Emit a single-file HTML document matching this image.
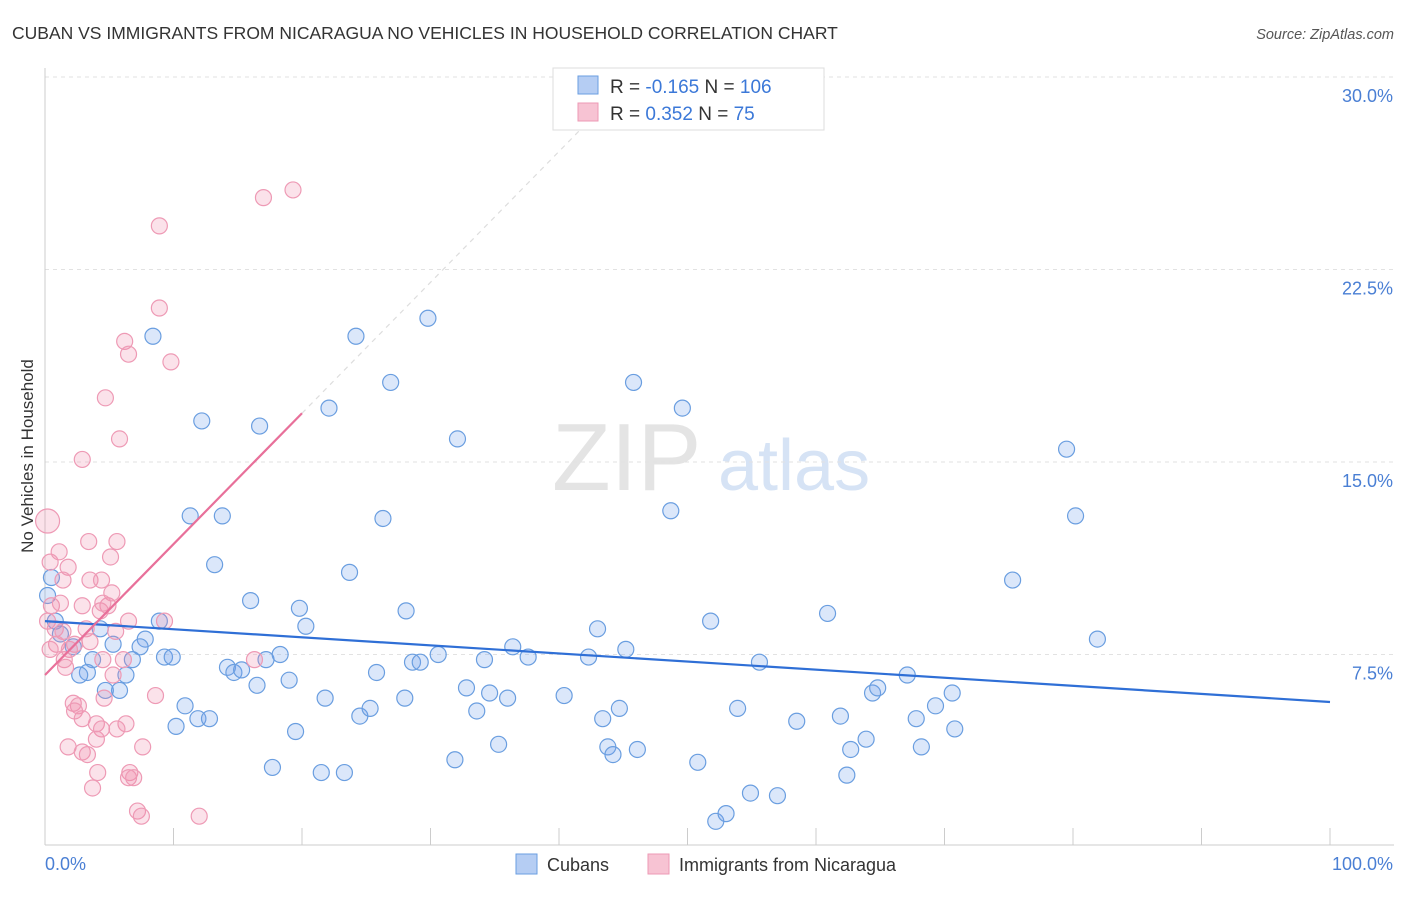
<!DOCTYPE html>
<html><head><meta charset="utf-8"><style>
body{margin:0;background:#fff;font-family:"Liberation Sans",sans-serif;}
svg text{font-family:"Liberation Sans",sans-serif;}
</style></head><body>
<svg id="chart" width="1406" height="892" xmlns="http://www.w3.org/2000/svg">
<text x="12" y="39" font-size="17.5" fill="#333">CUBAN VS IMMIGRANTS FROM NICARAGUA NO VEHICLES IN HOUSEHOLD CORRELATION CHART</text>
<text x="1394" y="39" font-size="14.5" fill="#555" font-style="italic" text-anchor="end">Source: ZipAtlas.com</text>
<g>
<text x="552" y="490" font-size="96" fill="#e4e4e4" font-family="Liberation Serif">ZIP</text>
<text x="718" y="490" font-size="72" fill="#d6e3f5">atlas</text>
</g>
<g id="grid"></g>
<g id="marks"></g>
<text transform="translate(33,456) rotate(-90)" font-size="17" fill="#333" text-anchor="middle">No Vehicles in Household</text>
<g>
<rect x="553" y="68" width="271" height="62" fill="#fff" stroke="#ddd"/>
<rect x="578" y="76" width="20" height="18" fill="#b5cdf3" stroke="#6a9ee0"/>
<rect x="578" y="103" width="20" height="18" fill="#f7c3d3" stroke="#ee9ab5"/>
<text x="610" y="93" font-size="19" fill="#333">R = <tspan fill="#3b78d8">-0.165</tspan>   N = <tspan fill="#3b78d8">106</tspan></text>
<text x="610" y="120" font-size="19" fill="#333">R =  <tspan fill="#3b78d8">0.352</tspan>   N =   <tspan fill="#3b78d8">75</tspan></text>
</g>
<g>
<rect x="516" y="854" width="21" height="20" fill="#b5cdf3" stroke="#6a9ee0"/>
<text x="547" y="871" font-size="18" fill="#333">Cubans</text>
<rect x="648" y="854" width="21" height="20" fill="#f7c3d3" stroke="#ee9ab5"/>
<text x="679" y="871" font-size="18" fill="#333">Immigrants from Nicaragua</text>
</g>
</svg>
<script>
const yTicks=[7.5,15,22.5,30];
const yTickLabels=["7.5%","15.0%","22.5%","30.0%"];
const xTickLabels=["0.0%","100.0%"];
const cubanX=[8.4,12.2,11.3,13.8,13.2,16.7,24.2,29.8,26.9,22.1,32.1,26.3,23.7,16.0,19.8,20.3,28.1,8.9,7.8,7.4,9.3,9.9,6.8,5.3,4.3,3.7,3.3,2.7,2.2,1.2,0.8,0.5,0.2,4.7,5.8,6.3,10.9,10.2,11.9,12.8,14.2,14.7,15.3,16.5,17.2,18.3,19.0,19.5,17.7,21.5,23.3,21.8,24.5,25.3,25.8,28.0,28.6,29.2,30.6,32.8,33.6,34.6,36.0,34.2,36.4,37.6,31.9,35.3,40.4,42.3,43.0,43.4,44.7,45.2,43.8,44.2,46.1,45.8,49.6,48.7,51.8,50.8,53.9,55.6,54.9,57.0,52.2,53.0,58.5,60.9,61.9,62.4,62.7,63.9,64.4,64.8,67.1,67.8,68.2,69.3,70.6,70.8,75.3,79.5,80.2,81.9];
const cubanY=[19.9,16.6,12.9,12.9,11.0,16.4,19.9,20.6,18.1,17.1,15.9,12.8,10.7,9.6,9.3,8.6,9.2,8.8,8.1,7.8,7.4,7.4,7.3,7.9,8.5,7.3,6.8,6.7,7.8,8.3,8.8,10.5,9.8,6.1,6.1,6.7,5.5,4.7,5.0,5.0,7.0,6.8,6.9,6.3,7.3,7.5,6.5,4.5,3.1,2.9,2.9,5.8,5.1,5.4,6.8,5.8,7.2,7.2,7.5,6.2,5.3,6.0,5.8,7.3,7.8,7.4,3.4,4.0,5.9,7.4,8.5,5.0,5.4,7.7,3.9,3.6,3.8,18.1,17.1,13.1,8.8,3.3,5.4,7.2,2.1,2.0,1.0,1.3,4.9,9.1,5.1,2.8,3.8,4.2,6.0,6.2,6.7,5.0,3.9,5.5,6.0,4.6,10.4,15.5,12.9,8.1];
const nicX=[19.3,17.0,8.9,8.9,6.2,6.5,9.8,4.7,5.8,2.9,0.2,1.1,3.4,5.6,5.1,1.8,0.4,3.5,4.4,1.4,0.5,1.2,4.9,5.2,2.9,4.3,4.5,6.5,3.2,5.5,9.3,0.2,0.8,1.4,0.9,2.3,1.9,1.5,1.6,4.5,5.3,6.1,3.5,8.6,4.6,2.2,2.6,2.3,2.9,4.0,4.4,6.3,5.6,4.0,7.6,1.8,2.9,3.3,4.1,6.6,6.5,6.9,3.7,7.2,7.5,12.0,16.3,0.4];
const nicY=[25.6,25.3,24.2,21.0,19.7,19.2,18.9,17.5,15.9,15.1,12.7,11.5,11.9,11.9,11.3,10.9,11.1,10.4,10.4,10.4,9.4,9.5,9.4,9.9,9.4,9.2,9.5,8.8,8.5,8.4,8.8,8.8,8.5,8.4,7.9,7.9,7.7,7.3,7.0,7.3,6.7,7.3,8.0,5.9,5.8,5.6,5.5,5.3,5.0,4.8,4.6,4.8,4.6,4.2,3.9,3.9,3.7,3.6,2.9,2.9,2.7,2.7,2.3,1.4,1.2,1.2,7.3,7.7];
const cubanTrend=[8.8,5.65];
const nicTrend=[6.7,0.51];
const NS="http://www.w3.org/2000/svg";
const X0=45,X1=1330,Y0=847,PY=770/30;
const sx=v=>X0+(X1-X0)*v/100, sy=v=>Y0-v*PY;
function mk(tag,attrs,parent){const e=document.createElementNS(NS,tag);for(const k in attrs)e.setAttribute(k,attrs[k]);parent.appendChild(e);return e;}
const grid=document.getElementById('grid'),marks=document.getElementById('marks');
yTicks.forEach((t,i)=>{
 const l=mk('line',{x1:45,x2:1394,y1:sy(t),y2:sy(t),stroke:'#e2e2e2','stroke-dasharray':'4,4'},grid);
 
 
 const tx=mk('text',{x:1393,y:sy(t)+25,'font-size':18,fill:'#4a7fd4','text-anchor':'end'},grid);
 tx.textContent=yTickLabels[i];
 
 
});
const ax=mk('line',{x1:45,x2:1394,y1:845,y2:845,stroke:'#ccc'},grid);


const ay=mk('line',{x1:45,x2:45,y1:68,y2:845,stroke:'#ccc'},grid);


for(let i=0;i<=10;i++){
 const t=mk('line',{x1:sx(i*10),x2:sx(i*10),y1:828,y2:845,stroke:'#ccc'},grid);
 
 
}
const xl0=mk('text',{x:45,y:870,'font-size':18,fill:'#4a7fd4'},grid);xl0.textContent=xTickLabels[0];


const xl1=mk('text',{x:1393,y:870,'font-size':18,fill:'#4a7fd4','text-anchor':'end'},grid);xl1.textContent=xTickLabels[1];


cubanX.forEach((v,i)=>{
 const c=mk('circle',{cx:sx(v),cy:sy(cubanY[i]),r:8,fill:'rgba(110,160,235,0.25)',stroke:'#6a9ee0','stroke-width':1.2},marks);
 
 
});
nicX.forEach((v,i)=>{
 const c=mk('circle',{cx:sx(v),cy:sy(nicY[i]),r:(i===10?12:8),fill:'rgba(240,140,170,0.25)',stroke:'#ee9ab5','stroke-width':1.2},marks);
 
 
});
const bt=mk('line',{x1:sx(0),y1:sy(cubanTrend[0]),x2:sx(100),y2:sy(cubanTrend[1]),stroke:'#2f6fd6','stroke-width':2.2},marks);


const xEnd=(30-nicTrend[0])/nicTrend[1];
const pd=mk('line',{x1:sx(20),y1:sy(nicTrend[0]+nicTrend[1]*20),x2:sx(xEnd),y2:sy(30),stroke:'#ddd','stroke-width':1.2,'stroke-dasharray':'5,5'},marks);


const pt=mk('line',{x1:sx(0),y1:sy(nicTrend[0]),x2:sx(20),y2:sy(nicTrend[0]+nicTrend[1]*20),stroke:'#e8709a','stroke-width':2.2},marks);


</script>
</body></html>
